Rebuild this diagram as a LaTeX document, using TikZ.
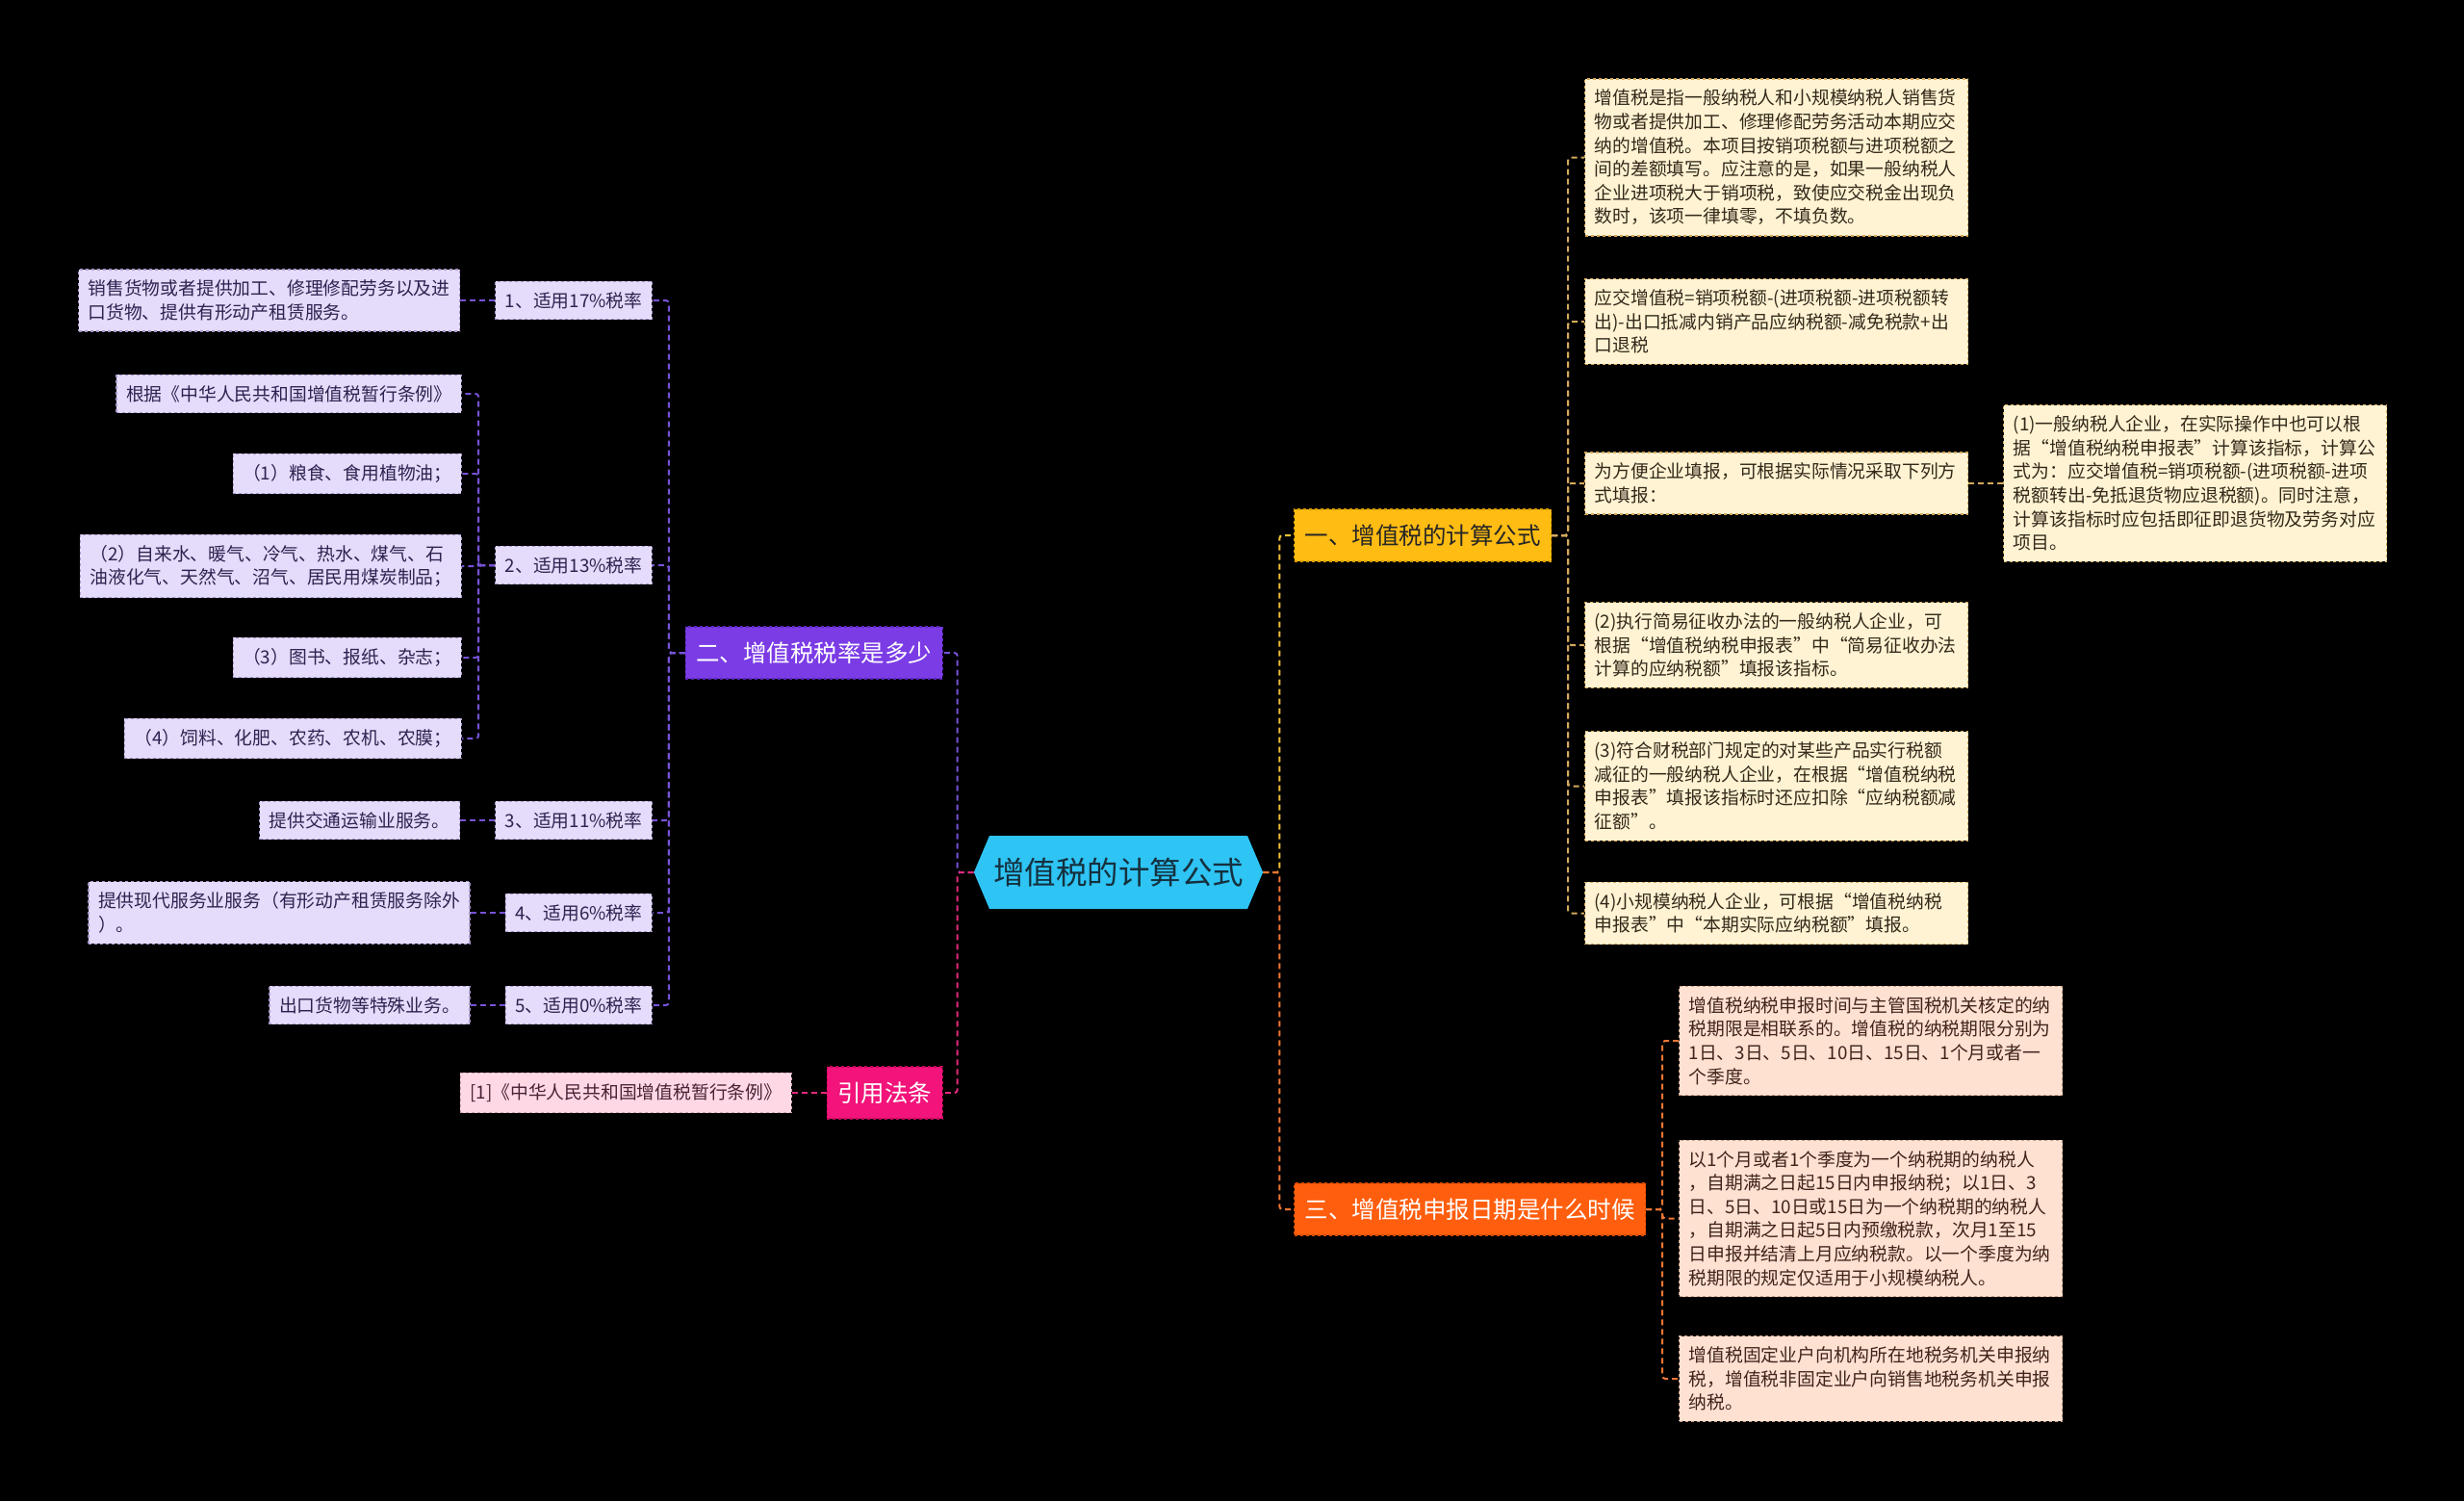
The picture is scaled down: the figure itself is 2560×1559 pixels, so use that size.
\documentclass[tikz,border=0pt]{standalone}
\usepackage{fontspec}
\newfontfamily\cjk{Noto Sans CJK SC}
\usepackage{xcolor}
\usepackage{tikz}
\usetikzlibrary{shapes.symbols, positioning, backgrounds}
\pgfdeclarelayer{canvas}
\pgfsetlayers{canvas,background,main}

\definecolor{rootcyan}{HTML}{2EC4F4}
\definecolor{rootink}{HTML}{15303E}
\definecolor{yelmain}{HTML}{FFBC13}
\definecolor{yelborder}{HTML}{D99E00}
\definecolor{yelline}{HTML}{F2C037}
\definecolor{yelleaf}{HTML}{FFF3D3}
\definecolor{yeledge}{HTML}{D4A95C}
\definecolor{yelink}{HTML}{33291A}
\definecolor{orgmain}{HTML}{FF5E0E}
\definecolor{orgborder}{HTML}{D84A00}
\definecolor{orgline}{HTML}{EE7635}
\definecolor{orgleaf}{HTML}{FFE1D2}
\definecolor{orgedge}{HTML}{C9A08A}
\definecolor{orgink}{HTML}{40241A}
\definecolor{purmain}{HTML}{7B3CE6}
\definecolor{purborder}{HTML}{5A28B8}
\definecolor{purline}{HTML}{7752D6}
\definecolor{purleaf}{HTML}{E5DBFA}
\definecolor{puredge}{HTML}{A898CC}
\definecolor{purink}{HTML}{2E2250}
\definecolor{pnkmain}{HTML}{F2147A}
\definecolor{pnkborder}{HTML}{C00A5A}
\definecolor{pnkline}{HTML}{E3297C}
\definecolor{pnkleaf}{HTML}{FFD8E6}
\definecolor{pnkedge}{HTML}{D0A0B4}
\definecolor{pnkink}{HTML}{4A2234}

\begin{document}
\begin{tikzpicture}[
    x=1pt, y=-1pt,
    root/.style={signal, signal to=west and east, signal pointer angle=134, fill=rootcyan, text=rootink, minimum height=76pt, inner xsep=4pt, inner ysep=0pt, font=\cjk\fontsize{32.5}{38}\selectfont},
    topic/.style={rectangle, draw, dashed, line width=1.2pt, minimum height=54pt, inner xsep=11pt, inner ysep=4pt, font=\cjk\fontsize{24.5}{30}\selectfont},
    leaf/.style={rectangle, draw, dashed, line width=1.2pt, inner xsep=10pt, inner ysep=11pt, align=left, font=\cjk\fontsize{18.8}{24.6}\selectfont},
    wide/.style={leaf, text width=378pt},
    yleaf/.style={wide, fill=yelleaf, draw=yeledge, text=yelink},
    oleaf/.style={wide, fill=orgleaf, draw=orgedge, text=orgink},
    pleaf/.style={leaf, fill=purleaf, draw=puredge, text=purink},
    conn/.style={line width=2pt, dash pattern=on 6pt off 4pt, rounded corners=3pt},
]
\useasboundingbox (0,0) rectangle (2560,1559);
\begin{pgfonlayer}{canvas}
\fill[black] (0,0) rectangle (2560,1559);
\end{pgfonlayer}

% Root
\node[root] (root) at (1162,906) {增值税的计算公式};

% Branch 1: formula
\node[topic, anchor=west, fill=yelmain, draw=yelborder, text=black!85] (calc) at (1344,556) {一、增值税的计算公式};
\node[yleaf, anchor=west] (calcdef) at (1646,163.5) {增值税是指一般纳税人和小规模纳税人销售货\\物或者提供加工、修理修配劳务活动本期应交\\纳的增值税。本项目按销项税额与进项税额之\\间的差额填写。应注意的是，如果一般纳税人\\企业进项税大于销项税，致使应交税金出现负\\数时，该项一律填零，不填负数。};
\node[yleaf, anchor=west] (calcform) at (1646,334) {应交增值税=销项税额-(进项税额-进项税额转\\出)-出口抵减内销产品应纳税额-减免税款+出\\口退税};
\node[yleaf, anchor=west] (calcway) at (1646,502) {为方便企业填报，可根据实际情况采取下列方\\式填报：};
\node[yleaf, right=36pt of calcway] (wayone) {(1)一般纳税人企业，在实际操作中也可以根\\据“增值税纳税申报表”计算该指标，计算公\\式为：应交增值税=销项税额-(进项税额-进项\\税额转出-免抵退货物应退税额)。同时注意，\\计算该指标时应包括即征即退货物及劳务对应\\项目。};
\node[yleaf, anchor=west] (waytwo) at (1646,670) {(2)执行简易征收办法的一般纳税人企业，可\\根据“增值税纳税申报表”中“简易征收办法\\计算的应纳税额”填报该指标。};
\node[yleaf, anchor=west] (waythree) at (1646,816.5) {(3)符合财税部门规定的对某些产品实行税额\\减征的一般纳税人企业，在根据“增值税纳税\\申报表”填报该指标时还应扣除“应纳税额减\\征额”。};
\node[yleaf, anchor=west] (wayfour) at (1646,948.5) {(4)小规模纳税人企业，可根据“增值税纳税\\申报表”中“本期实际应纳税额”填报。};

% Branch 3: filing date
\node[topic, anchor=west, fill=orgmain, draw=orgborder, text=white] (date) at (1344,1256) {三、增值税申报日期是什么时候};
\node[oleaf, anchor=west] (dateterm) at (1744,1081) {增值税纳税申报时间与主管国税机关核定的纳\\税期限是相联系的。增值税的纳税期限分别为\\1日、3日、5日、10日、15日、1个月或者一\\个季度。};
\node[oleaf, anchor=west] (datedue) at (1744,1265.5) {以1个月或者1个季度为一个纳税期的纳税人\\，自期满之日起15日内申报纳税；以1日、3\\日、5日、10日或15日为一个纳税期的纳税人\\，自期满之日起5日内预缴税款，次月1至15\\日申报并结清上月应纳税款。以一个季度为纳\\税期限的规定仅适用于小规模纳税人。};
\node[oleaf, anchor=west] (dateplace) at (1744,1432) {增值税固定业户向机构所在地税务机关申报纳\\税，增值税非固定业户向销售地税务机关申报\\纳税。};

% Branch 2: rates
\node[topic, anchor=east, fill=purmain, draw=purborder, text=white] (rate) at (980,678) {二、增值税税率是多少};
\node[pleaf, anchor=east] (rseventeen) at (678,312) {1、适用17\%税率};
\node[pleaf, anchor=east] (rthirteen) at (678,587) {2、适用13\%税率};
\node[pleaf, anchor=east] (releven) at (678,852) {3、适用11\%税率};
\node[pleaf, anchor=east] (rsix) at (678,948) {4、适用6\%税率};
\node[pleaf, anchor=east] (rzero) at (678,1044) {5、适用0\%税率};
\node[pleaf, left=36pt of rseventeen] (goods) {销售货物或者提供加工、修理修配劳务以及进\\口货物、提供有形动产租赁服务。};
\node[pleaf, anchor=east] (basis) at (480,409) {根据《中华人民共和国增值税暂行条例》};
\node[pleaf, anchor=east] (grain) at (480,492) {（1）粮食、食用植物油；};
\node[pleaf, anchor=east] (water) at (480,588) {（2）自来水、暖气、冷气、热水、煤气、石\\油液化气、天然气、沼气、居民用煤炭制品；};
\node[pleaf, anchor=east] (books) at (480,683) {（3）图书、报纸、杂志；};
\node[pleaf, anchor=east] (feed) at (480,767) {（4）饲料、化肥、农药、农机、农膜；};
\node[pleaf, left=36pt of releven] (transport) {提供交通运输业服务。};
\node[pleaf, left=36pt of rsix] (service) {提供现代服务业服务（有形动产租赁服务除外\\）。};
\node[pleaf, left=36pt of rzero] (export) {出口货物等特殊业务。};

% Branch 4: citation
\node[topic, anchor=east, fill=pnkmain, draw=pnkborder, text=white] (cite) at (980,1135) {引用法条};
\node[leaf, fill=pnkleaf, draw=pnkedge, text=pnkink, left=36pt of cite] (law) {[1]《中华人民共和国增值税暂行条例》};

\begin{scope}[on background layer]
% root links
\draw[conn, yelline] (root.east) -- ++(17,0) |- (calc.west);
\draw[conn, orgline] (root.east) -- ++(17,0) |- (date.west);
\draw[conn, purline] (root.west) -- ++(-17,0) |- (rate.east);
\draw[conn, pnkline] (root.west) -- ++(-17,0) |- (cite.east);
% branch 1 links
\draw[conn, yeledge] (calc.east) -- ++(17,0) |- (calcdef.west);
\draw[conn, yeledge] (calc.east) -- ++(17,0) |- (calcform.west);
\draw[conn, yeledge] (calc.east) -- ++(17,0) |- (calcway.west);
\draw[conn, yeledge] (calc.east) -- ++(17,0) |- (waytwo.west);
\draw[conn, yeledge] (calc.east) -- ++(17,0) |- (waythree.west);
\draw[conn, yeledge] (calc.east) -- ++(17,0) |- (wayfour.west);
\draw[conn, yeledge] (calcway.east) -- (wayone.west);
% branch 3 links
\draw[conn, orgline] (date.east) -- ++(17,0) |- (dateterm.west);
\draw[conn, orgline] (date.east) -- ++(17,0) |- (datedue.west);
\draw[conn, orgline] (date.east) -- ++(17,0) |- (dateplace.west);
% branch 2 links
\draw[conn, purline] (rate.west) -- ++(-17,0) |- (rseventeen.east);
\draw[conn, purline] (rate.west) -- ++(-17,0) |- (rthirteen.east);
\draw[conn, purline] (rate.west) -- ++(-17,0) |- (releven.east);
\draw[conn, purline] (rate.west) -- ++(-17,0) |- (rsix.east);
\draw[conn, purline] (rate.west) -- ++(-17,0) |- (rzero.east);
\draw[conn, purline] (rseventeen.west) -- (goods.east);
\draw[conn, purline] (rthirteen.west) -- ++(-17,0) |- (basis.east);
\draw[conn, purline] (rthirteen.west) -- ++(-17,0) |- (grain.east);
\draw[conn, purline] (rthirteen.west) -- ++(-17,0) |- (water.east);
\draw[conn, purline] (rthirteen.west) -- ++(-17,0) |- (books.east);
\draw[conn, purline] (rthirteen.west) -- ++(-17,0) |- (feed.east);
\draw[conn, purline] (releven.west) -- (transport.east);
\draw[conn, purline] (rsix.west) -- (service.east);
\draw[conn, purline] (rzero.west) -- (export.east);
% branch 4 link
\draw[conn, pnkline] (cite.west) -- (law.east);
\end{scope}

\end{tikzpicture}
\end{document}
